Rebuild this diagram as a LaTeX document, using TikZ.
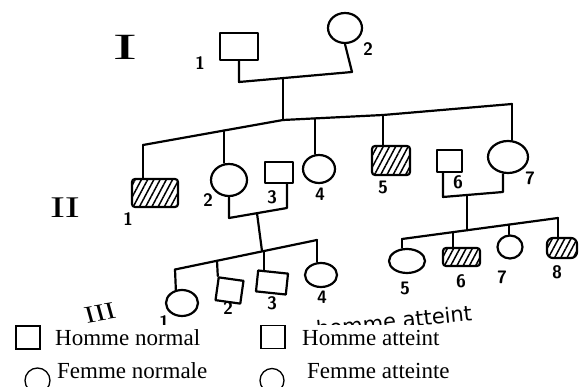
\documentclass[tikz,border=0pt]{standalone}
\usepackage{fontspec}
\setmainfont{Liberation Serif}
\newfontfamily\handfont{DejaVu Sans}
\usetikzlibrary{shapes.geometric,patterns.meta}
\begin{document}
\begin{tikzpicture}[x=1pt,y=-1pt,
  ink/.style={line width=2.2pt, line join=round, line cap=round},
  male/.style={draw, ink, rectangle, inner sep=0pt},
  female/.style={draw, ink, ellipse, inner sep=0pt},
  hatch/.style={pattern={Lines[angle=62,distance=5.5pt,line width=1.5pt]}, rounded corners=3pt},
  num/.style={font=\sffamily\bfseries\fontsize{18}{18}\selectfont, inner sep=0pt},
  gen/.style={font=\fontsize{30}{30}\selectfont, inner sep=0pt},
  key/.style={font=\fontsize{23}{27}\selectfont, anchor=base west, inner sep=0pt, text height=16pt, text depth=5pt},
  keybox/.style={draw, line width=1.3pt, inner sep=0pt, minimum width=24pt, minimum height=23pt},
  keyround/.style={draw, line width=1.3pt, circle, inner sep=0pt},
]
\useasboundingbox (0,0) rectangle (587,387);

% ---------- generation I ----------
\node[gen, xscale=2, font=\fontsize{37}{37}\selectfont] (gI) at (125,47) {I};
\node[male, minimum width=38pt, minimum height=27pt] (I1) at (239,46.5) {};
\node[female, minimum width=34pt, minimum height=30pt] (I2) at (345,28) {};
\node[num] (lI1) at (200,63) {1};
\node[num] (lI2) at (368,49) {2};

\coordinate (mIa) at (239,82);
\coordinate (mIb) at (352,72);
\draw[ink] (I1.south) -- (mIa) -- (mIb) -- (I2.south);
\coordinate (dI) at (283,78);
\coordinate (sII) at (283,120);
\draw[ink] (dI) -- (sII);

% ---------- generation II ----------
\node[gen, xscale=1.5] (gII) at (65,208) {II};
\node[male, hatch, minimum width=46pt, minimum height=28pt] (II1) at (155,193) {};
\node[female, minimum width=36pt, minimum height=32pt] (II2) at (229,180) {};
\node[male, minimum width=28pt, minimum height=21pt] (II3) at (279,172.5) {};
\node[female, minimum width=32pt, minimum height=28pt] (II4) at (319,169) {};
\node[male, hatch, minimum width=38pt, minimum height=29pt] (II5) at (391,160.5) {};
\node[male, minimum width=25pt, minimum height=22pt] (II6) at (449.5,161) {};
\node[female, minimum width=40pt, minimum height=32pt] (II7) at (508,157) {};
\node[num] (lII1) at (128,219) {1};
\node[num] (lII2) at (208,200) {2};
\node[num] (lII3) at (272,197) {3};
\node[num] (lII4) at (320,194) {4};
\node[num] (lII5) at (383,187) {5};
\node[num] (lII6) at (458,182) {6};
\node[num] (lII7) at (530,178) {7};

% sibship of generation II
\coordinate (sIIa) at (143,145);
\coordinate (sIIb) at (383,115);
\coordinate (sIIc) at (512,104);
\draw[ink] (sIIa) -- (sII) -- (sIIb) -- (sIIc);
\coordinate (jII2) at (224,130.5);
\coordinate (jII4) at (315,118.4);
\draw[ink] (sIIa) -- (sIIa |- II1.north);
\draw[ink] (jII2) -- (jII2 |- II2.north);
\draw[ink] (jII4) -- (jII4 |- II4.north);
\draw[ink] (sIIb) -- (sIIb |- II5.north);
\draw[ink] (sIIc) -- (sIIc |- II7.north);

% couple II-2 x II-3
\coordinate (mIIa) at (229,218);
\coordinate (mIIb) at (287,208);
\draw[ink] (II2.south) -- (mIIa) -- (mIIb) -- (mIIb |- II3.south);
\coordinate (dII) at (257,213.2);
\coordinate (sIIIL) at (262,251);
\draw[ink] (dII) -- (sIIIL);

% couple II-6 x II-7
\coordinate (mIIIa) at (443,197);
\coordinate (mIIIb) at (503,192);
\draw[ink] (mIIIa |- II6.south) -- (mIIIa) -- (mIIIb) -- (mIIIb |- II7.south);
\coordinate (dIII) at (467,195);
\coordinate (sIIIR) at (467,230.2);
\draw[ink] (dIII) -- (sIIIR);

% ---------- generation III ----------
\node[gen, xscale=1.3, rotate=12, font=\fontsize{24}{24}\selectfont] (gIII) at (100,313) {III};
\node[female, minimum width=32pt, minimum height=26pt] (III1) at (182,303) {};
\node[male, rotate=-8, minimum width=25pt, minimum height=23pt] (III2) at (229.5,290.5) {};
\node[male, rotate=-6, minimum width=30pt, minimum height=21pt] (III3) at (272,282.5) {};
\node[female, minimum width=32pt, minimum height=24pt] (III4) at (321,275) {};
\node[female, minimum width=36pt, minimum height=24pt] (III5) at (407,261) {};
\node[male, hatch, minimum width=37pt, minimum height=18pt] (III6) at (461.5,257) {};
\node[female, minimum width=25pt, minimum height=23pt] (III7) at (510,247) {};
\node[male, hatch, rounded corners=6pt, minimum width=30pt, minimum height=20pt] (III8) at (562,248) {};
\node[num] (lIII2) at (228,308) {2};
\node[num] (lIII3) at (272,303) {3};
\node[num] (lIII4) at (322,297) {4};
\node[num] (lIII5) at (405,288) {5};
\node[num] (lIII6) at (461,281) {6};
\node[num] (lIII7) at (502,277) {7};
\node[num] (lIII8) at (557,272) {8};

% left sibship of generation III
\coordinate (sIIIa) at (175,269.5);
\coordinate (sIIIb) at (317,240);
\draw[ink] (sIIIa) -- (sIIIb);
\coordinate (jIII2) at (217,260.8);
\coordinate (jIII3) at (264,251);
\draw[ink] (sIIIa) -- (III1.115);
\draw[ink] (jIII2) -- (III2.north west);
\draw[ink] (jIII3) -- (jIII3 |- III3.north);
\draw[ink] (sIIIb) -- (sIIIb |- III4.north);

% right sibship of generation III
\coordinate (sIIIc) at (402,239);
\coordinate (sIIId) at (558,218);
\draw[ink] (sIIIc) -- (sIIId);
\coordinate (jIII6) at (453,232.1);
\coordinate (jIII7) at (509,224.6);
\draw[ink] (sIIIc) -- (sIIIc |- III5.north);
\draw[ink] (jIII6) -- (jIII6 |- III6.north);
\draw[ink] (jIII7) -- (jIII7 |- III7.north);
\draw[ink] (sIIId) -- (sIIId |- III8.north);

% lower edge of the sketch cuts these
\begin{scope}
  \clip (0,0) rectangle (587,325);
  \node[num] (lIII1) at (164,322) {1};
  \node[font=\handfont\fontsize{21}{21}\selectfont, anchor=base west, inner sep=0pt, text depth=0pt, rotate=6] (frag) at (317,337) {homme atteint};
\end{scope}

% ---------- key ----------
\node[keybox] (kHn) at (28,337.5) {};
\node[key] (tHn) at (55,346) {Homme normal};
\node[keybox] (kHa) at (273,337) {};
\node[key] (tHa) at (302,346) {Homme atteint};
\node[keyround, minimum size=25pt] (kFn) at (37.5,380.5) {};
\node[key] (tFn) at (57,379) {Femme normale};
\node[keyround, minimum size=24pt] (kFa) at (272,380.5) {};
\node[key] (tFa) at (307,379) {Femme atteinte};
\end{tikzpicture}
\end{document}
